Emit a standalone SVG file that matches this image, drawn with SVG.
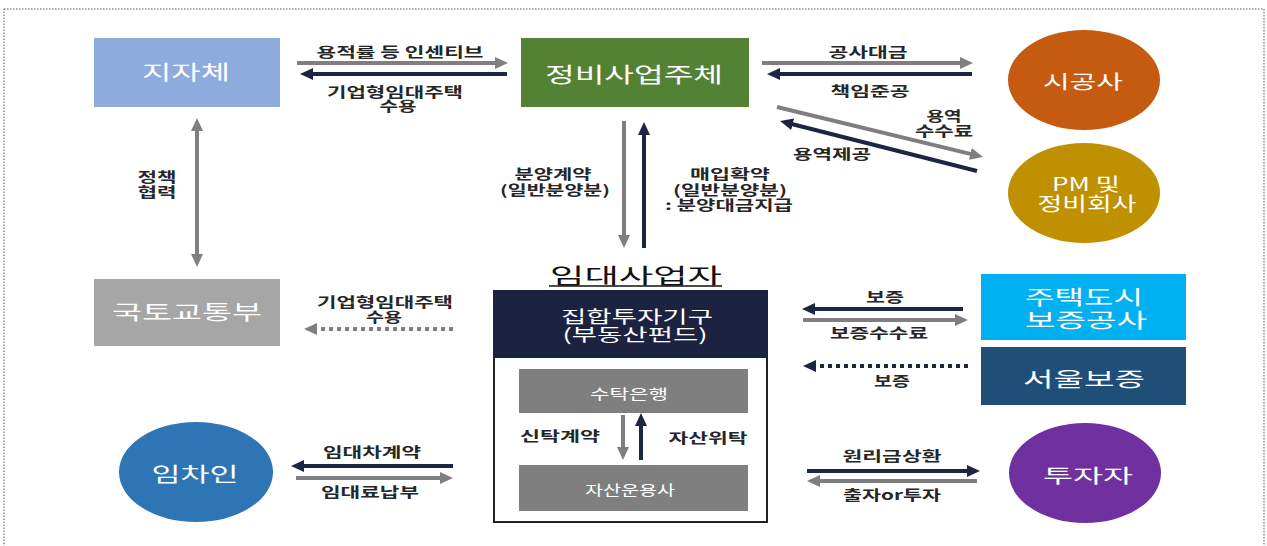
<svg xmlns="http://www.w3.org/2000/svg" width="1267" height="546" viewBox="0 0 1267 546">
<defs>
<style>
text{font-family:"Noto Sans CJK KR","Liberation Sans",sans-serif;text-anchor:middle;}
.nt{fill:#fff;}
.lb{fill:#262626;font-size:13.5px;font-weight:bold;}
.g{stroke:#7f7f7f;stroke-width:4;fill:none;marker-end:url(#hg);}
.n{stroke:#1c2542;stroke-width:4;fill:none;marker-end:url(#hn);}
.dg{stroke:#7f7f7f;stroke-width:4;fill:none;stroke-dasharray:4 4;marker-end:url(#hg);}
.dn{stroke:#1c2542;stroke-width:4;fill:none;stroke-dasharray:4 4;marker-end:url(#hn);}
</style>
<marker id="hg" markerUnits="userSpaceOnUse" markerWidth="14" markerHeight="12" refX="2" refY="6" orient="auto"><path d="M0,0 L13,6 L0,12 z" fill="#7f7f7f"/></marker>
<marker id="hn" markerUnits="userSpaceOnUse" markerWidth="14" markerHeight="12" refX="2" refY="6" orient="auto"><path d="M0,0 L13,6 L0,12 z" fill="#1c2542"/></marker>
<marker id="hgs" markerUnits="userSpaceOnUse" markerWidth="14" markerHeight="12" refX="2" refY="6" orient="auto-start-reverse"><path d="M0,0 L13,6 L0,12 z" fill="#7f7f7f"/></marker>
</defs>
<rect width="1267" height="546" fill="#fff"/>
<rect x="4" y="9" width="1260" height="545" fill="none" stroke="#555" stroke-width="1" stroke-dasharray="1.5 1.5"/>

<g id="node-jijache"><rect x="94" y="38" width="186" height="69" fill="#8faadc"/><text class="nt" x="186" y="80" font-size="20" textLength="88" lengthAdjust="spacingAndGlyphs">지자체</text></g>
<g id="node-molit"><rect x="94" y="279" width="186" height="67" fill="#a6a6a6"/><text class="nt" x="187" y="320" font-size="20" textLength="150" lengthAdjust="spacingAndGlyphs">국토교통부</text></g>
<g id="node-jeongbi"><rect x="521" y="38" width="228" height="69" fill="#548235"/><text class="nt" x="634" y="82" font-size="21" textLength="178" lengthAdjust="spacingAndGlyphs">정비사업주체</text></g>
<g id="node-sigongsa"><ellipse cx="1084" cy="80" rx="76" ry="50" fill="#c55a11"/><text class="nt" x="1083" y="89" font-size="19" textLength="80" lengthAdjust="spacingAndGlyphs">시공사</text></g>
<g id="node-pm"><ellipse cx="1084" cy="193" rx="76" ry="50" fill="#bf9000"/><text class="nt" font-size="18"><tspan x="1086" y="191" textLength="68" lengthAdjust="spacingAndGlyphs">PM 및</tspan><tspan x="1087" y="211" font-size="19" textLength="99" lengthAdjust="spacingAndGlyphs">정비회사</tspan></text></g>
<g id="node-imdae">
<text x="636" y="283" font-size="21" fill="#111" textLength="172" lengthAdjust="spacingAndGlyphs">임대사업자</text>
<line x1="549" y1="286" x2="722" y2="286" stroke="#111" stroke-width="1.5"/>
<rect x="494" y="291" width="273" height="231" fill="#fff" stroke="#222" stroke-width="2"/>
<rect x="493" y="290" width="275" height="68" fill="#1c2340"/>
<text class="nt" font-size="17"><tspan x="637" y="323" textLength="152" lengthAdjust="spacingAndGlyphs">집합투자기구</tspan><tspan x="635" y="341" textLength="145" lengthAdjust="spacingAndGlyphs">(부동산펀드)</tspan></text>
</g>
<g id="node-trustbank"><rect x="519" y="369" width="229" height="44" fill="#7f7f7f"/><text class="nt" x="629" y="399" font-size="14" textLength="78" lengthAdjust="spacingAndGlyphs">수탁은행</text></g>
<g id="node-amc"><rect x="519" y="465" width="229" height="46" fill="#7f7f7f"/><text class="nt" x="630" y="495" font-size="14" textLength="90" lengthAdjust="spacingAndGlyphs">자산운용사</text></g>
<g id="node-hug"><rect x="981" y="274" width="205" height="66" fill="#00b0f0"/><text class="nt" font-size="20"><tspan x="1084" y="305" textLength="118" lengthAdjust="spacingAndGlyphs">주택도시</tspan><tspan x="1086" y="328" textLength="122" lengthAdjust="spacingAndGlyphs">보증공사</tspan></text></g>
<g id="node-sgi"><rect x="981" y="347" width="205" height="58" fill="#1f4e79"/><text class="nt" x="1084" y="387" font-size="20" textLength="122" lengthAdjust="spacingAndGlyphs">서울보증</text></g>
<g id="node-investor"><ellipse cx="1085" cy="473" rx="76" ry="50" fill="#7030a0"/><text class="nt" x="1088" y="483" font-size="19" textLength="90" lengthAdjust="spacingAndGlyphs">투자자</text></g>
<g id="node-tenant"><ellipse cx="196" cy="472" rx="77" ry="50" fill="#2e75b6"/><text class="nt" x="195" y="482" font-size="20" textLength="87" lengthAdjust="spacingAndGlyphs">임차인</text></g>

<g id="connectors">
<line class="g" x1="297" y1="63" x2="497" y2="63"/>
<line class="n" x1="507" y1="74" x2="311" y2="74"/>
<line x1="197" y1="129" x2="197" y2="256" stroke="#7f7f7f" stroke-width="4" marker-start="url(#hgs)" marker-end="url(#hgs)"/>
<line class="dg" x1="453" y1="329" x2="315" y2="329"/>
<line class="g" x1="624" y1="121" x2="624" y2="237"/>
<line class="n" x1="644" y1="248" x2="644" y2="133"/>
<line class="g" x1="762" y1="63" x2="962" y2="63"/>
<line class="n" x1="972" y1="74" x2="778" y2="74"/>
<line class="g" x1="777" y1="107" x2="972.3" y2="154.4"/>
<line class="n" x1="977" y1="171" x2="790.7" y2="123.7"/>
<line class="g" x1="623" y1="415" x2="623" y2="449"/>
<line class="n" x1="641" y1="460" x2="641" y2="424"/>
<line class="n" x1="963" y1="309" x2="813" y2="309"/>
<line class="g" x1="803" y1="320" x2="957" y2="320"/>
<line class="dn" x1="968" y1="366" x2="814" y2="366"/>
<line class="n" x1="807" y1="471" x2="969" y2="471"/>
<line class="g" x1="977" y1="481" x2="818" y2="481"/>
<line class="n" x1="453" y1="466" x2="302" y2="466"/>
<line class="g" x1="296" y1="478" x2="442" y2="478"/>
</g>

<g id="labels">
<text class="lb" x="400" y="57" textLength="167" lengthAdjust="spacingAndGlyphs">용적률 등 인센티브</text>
<text class="lb"><tspan x="395" y="97" textLength="136" lengthAdjust="spacingAndGlyphs">기업형임대주택</tspan><tspan x="398" y="111" textLength="37" lengthAdjust="spacingAndGlyphs">수용</tspan></text>
<text class="lb"><tspan x="157" y="182" textLength="39" lengthAdjust="spacingAndGlyphs">정책</tspan><tspan x="157" y="197" textLength="39" lengthAdjust="spacingAndGlyphs">협력</tspan></text>
<text class="lb"><tspan x="385" y="307" textLength="136" lengthAdjust="spacingAndGlyphs">기업형임대주택</tspan><tspan x="384" y="322" textLength="36" lengthAdjust="spacingAndGlyphs">수용</tspan></text>
<text class="lb"><tspan x="553" y="179" textLength="77" lengthAdjust="spacingAndGlyphs">분양계약</tspan><tspan x="555" y="195" textLength="110" lengthAdjust="spacingAndGlyphs">(일반분양분)</tspan></text>
<text class="lb"><tspan x="730" y="179" textLength="80" lengthAdjust="spacingAndGlyphs">매입확약</tspan><tspan x="730" y="195" textLength="114" lengthAdjust="spacingAndGlyphs">(일반분양분)</tspan><tspan x="729" y="210" textLength="128" lengthAdjust="spacingAndGlyphs">: 분양대금지급</tspan></text>
<text class="lb" x="868" y="57" textLength="79" lengthAdjust="spacingAndGlyphs">공사대금</text>
<text class="lb" x="870" y="96" textLength="79" lengthAdjust="spacingAndGlyphs">책임준공</text>
<text class="lb"><tspan x="944" y="121" textLength="35" lengthAdjust="spacingAndGlyphs">용역</tspan><tspan x="944" y="136" textLength="58" lengthAdjust="spacingAndGlyphs">수수료</tspan></text>
<text class="lb" x="832" y="159" textLength="78" lengthAdjust="spacingAndGlyphs">용역제공</text>
<text class="lb" x="560" y="441" textLength="80" lengthAdjust="spacingAndGlyphs">신탁계약</text>
<text class="lb" x="708" y="443" textLength="79" lengthAdjust="spacingAndGlyphs">자산위탁</text>
<text class="lb" x="885" y="302" textLength="38" lengthAdjust="spacingAndGlyphs">보증</text>
<text class="lb" x="879" y="338" textLength="98" lengthAdjust="spacingAndGlyphs">보증수수료</text>
<text class="lb" x="892" y="386" textLength="36" lengthAdjust="spacingAndGlyphs">보증</text>
<text class="lb" x="892" y="461" textLength="99" lengthAdjust="spacingAndGlyphs">원리금상환</text>
<text class="lb" x="892" y="500" textLength="98" lengthAdjust="spacingAndGlyphs">출자or투자</text>
<text class="lb" x="372" y="457" textLength="98" lengthAdjust="spacingAndGlyphs">임대차계약</text>
<text class="lb" x="370" y="497" textLength="98" lengthAdjust="spacingAndGlyphs">임대료납부</text>
</g>
</svg>
